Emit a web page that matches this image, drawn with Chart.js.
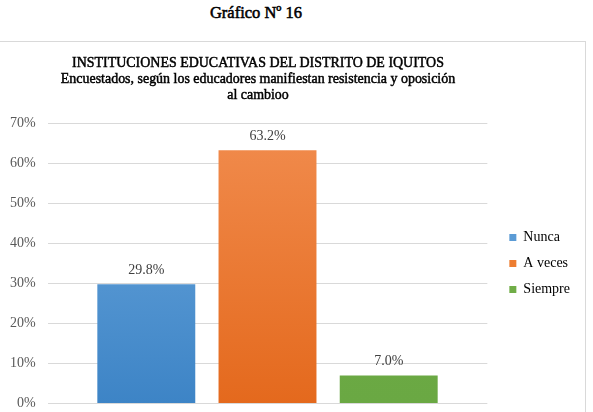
<!DOCTYPE html>
<html>
<head>
<meta charset="utf-8">
<script src="https://cdn.jsdelivr.net/npm/chart.js@4.4.1/dist/chart.umd.min.js"></script>
<style>
  body { margin: 0; background: #fff; overflow: hidden; }
  .heading {
    position: absolute; left: 156px; top: 3px; width: 200px; text-align: center;
    font: 17px "Liberation Serif", serif; color: #000;
    -webkit-text-stroke: 0.55px #000;
    transform: scaleX(0.97);
  }
  .box {
    position: absolute; left: -2px; top: 41px; width: 587px; height: 380px;
    border-top: 1px solid #d9d9d9; border-right: 1px solid #d9d9d9; overflow: hidden;
  }
  .box canvas { position: absolute; left: -68px; top: 0; }
  .ctitle {
    position: absolute; left: 8px; top: 54px; width: 500px; text-align: center;
    font: 15px/16px "Liberation Serif", serif; color: #000;
    -webkit-text-stroke: 0.5px #000;
    transform: scaleX(0.93);
  }
</style>
</head>
<body>
<div class="heading">Gráfico Nº 16</div>
<div class="box"><canvas class="iquitos-chart" width="655" height="382"></canvas></div>
<div class="ctitle" id="ctitle"></div>
<script>
var categories = ['Nunca', 'A veces', 'Siempre'];
var values = [29.8, 63.2, 7.0];
var yTicks = [0, 10, 20, 30, 40, 50, 60, 70];
var titleLines = [
    'INSTITUCIONES EDUCATIVAS DEL DISTRITO DE IQUITOS',
    'Encuestados, según los educadores manifiestan resistencia y oposición',
    'al cambioo'
];

var solid = ['#5b9bd5', '#ed7d31', '#70ad47'];
var tops = ['#6ea9de', '#f18c4e', '#70ad47'];
var bottoms = ['#3d84c6', '#e4691d', '#6aa843'];

document.getElementById('ctitle').innerHTML = titleLines.join('<br>');

function gradientFor(i) {
    return function (context) {
        var chart = context.chart;
        var area = chart.chartArea;
        if (!area) return solid[i];
        var g = chart.ctx.createLinearGradient(0, area.top, 0, area.bottom);
        g.addColorStop(0, tops[i]);
        g.addColorStop(1, bottoms[i]);
        return g;
    };
}

var valueLabels = {
    id: 'valueLabels',
    afterDatasetsDraw: function (chart) {
        var ctx = chart.ctx;
        ctx.save();
        ctx.font = '14px "Liberation Serif", serif';
        ctx.fillStyle = '#404040';
        ctx.textAlign = 'center';
        ctx.textBaseline = 'bottom';
        chart.data.datasets.forEach(function (ds, i) {
            var bar = chart.getDatasetMeta(i).data[0];
            ctx.fillText(ds.data[0].toFixed(1) + '%', bar.x, bar.y - 7);
        });
        ctx.restore();
    }
};

var ctx = document.querySelector('.iquitos-chart');
window.myChart = new Chart(ctx, {
    type: 'bar',
    data: {
        labels: [''],
        datasets: categories.map(function (name, i) {
            return {
                label: name,
                data: [values[i]],
                backgroundColor: gradientFor(i),
                borderWidth: 0,
                categoryPercentage: 0.827,
                barPercentage: 0.808
            };
        })
    },
    options: {
        responsive: false,
        animation: false,
        layout: { padding: { left: 68, right: 5, top: 70, bottom: 9 } },
        scales: {
            x: {
                position: 'top',
                display: true,
                grid: { display: false },
                ticks: { display: false },
                border: { display: false },
                afterFit: function (scale) { scale.height = 11; }
            },
            y: {
                min: 0,
                max: 70,
                afterBuildTicks: function (scale) {
                    scale.ticks = yTicks.map(function (v) { return { value: v }; });
                },
                ticks: {
                    callback: function (v) { return v + '%'; },
                    font: { size: 14, family: 'Liberation Serif' },
                    color: '#595959',
                    padding: 12
                },
                grid: { color: '#d9d9d9', drawTicks: false },
                border: { display: false }
            },
            gap: {
                position: 'right',
                display: true,
                grid: { display: false },
                ticks: { display: false },
                border: { display: false },
                afterFit: function (scale) { scale.width = 10; }
            }
        },
        plugins: {
            title: { display: false },
            legend: {
                position: 'right',
                labels: {
                    font: { size: 14, family: 'Liberation Serif' },
                    color: '#404040',
                    boxWidth: 7,
                    boxHeight: 7,
                    padding: 12,
                    generateLabels: function (chart) {
                        return chart.data.datasets.map(function (ds, i) {
                            return { text: ds.label, fillStyle: solid[i], strokeStyle: solid[i], lineWidth: 0, datasetIndex: i };
                        });
                    }
                }
            },
            tooltip: { enabled: false }
        }
    },
    plugins: [valueLabels]
});
</script>
</body>
</html>
